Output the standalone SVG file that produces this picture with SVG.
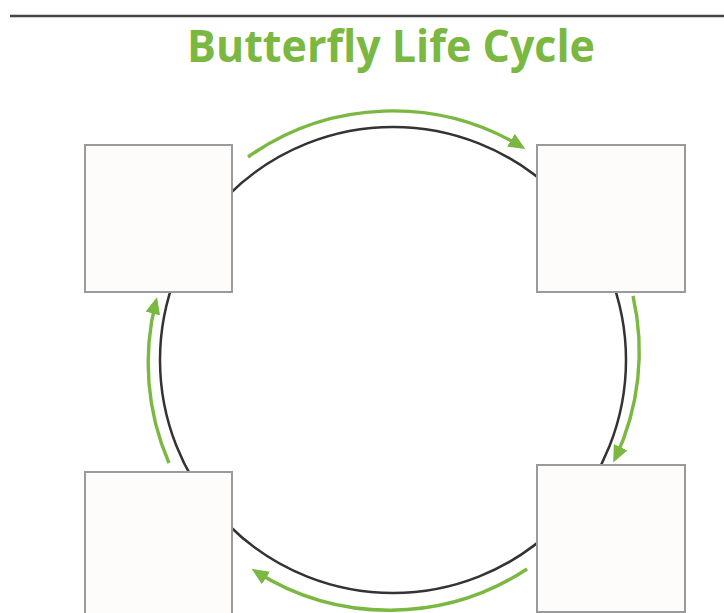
<svg xmlns="http://www.w3.org/2000/svg" width="724" height="613" viewBox="0 0 724 613">
<style>
.box{fill:#fdfcfb;stroke:#9a9a9a;stroke-width:2}
.cyc{fill:none;stroke:#333333;stroke-width:2.5}
.arr{fill:none;stroke:#7ab842;stroke-width:3.4;marker-end:url(#ah)}
.title{font-family:"Open Sans","Liberation Sans",sans-serif;font-weight:bold;font-size:44px;fill:#7ab842}
</style>
<defs>
<marker id="ah" viewBox="0 0 17 15" refX="13" refY="7.5" markerWidth="17" markerHeight="15" markerUnits="userSpaceOnUse" orient="auto">
<path d="M0,0 L17,7.5 L0,15 z" fill="#7ab842"/>
</marker>
</defs>
<rect width="724" height="613" fill="#ffffff"/>
<line x1="10" y1="16" x2="724" y2="16" stroke="#444444" stroke-width="2.5"/>
<text class="title" x="187" y="62" textLength="408" lengthAdjust="spacingAndGlyphs">Butterfly Life Cycle</text>
<g id="connectors">
<circle class="cyc" cx="393" cy="360" r="233"/>
<path class="arr" d="M 248 157 A 250 250 0 0 1 522 147"/>
<path class="arr" d="M 633 296 A 250 250 0 0 1 615 459"/>
<path class="arr" d="M 527 569 A 250 250 0 0 1 255 571"/>
<path class="arr" d="M 169 463 A 250 250 0 0 1 156 301"/>
</g>
<g id="node-top-left"><rect class="box" x="85" y="145" width="147" height="147"/></g>
<g id="node-top-right"><rect class="box" x="537" y="145" width="148" height="147"/></g>
<g id="node-bottom-right"><rect class="box" x="537" y="465" width="148" height="147"/></g>
<g id="node-bottom-left"><rect class="box" x="85" y="472" width="147" height="150"/></g>
</svg>
